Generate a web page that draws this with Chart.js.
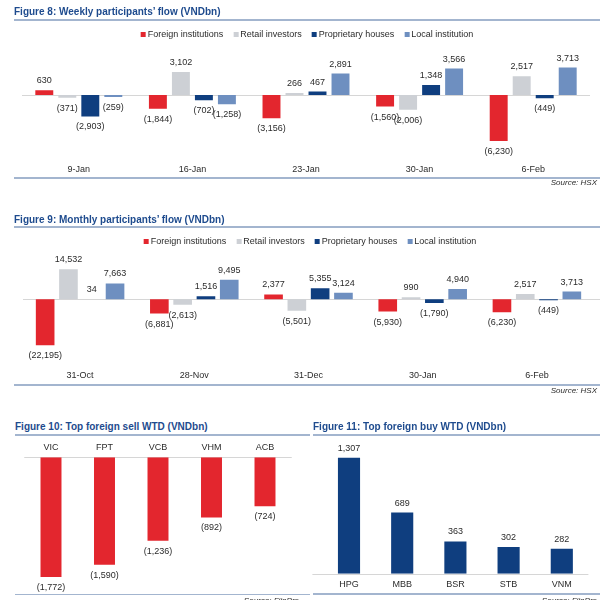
<!DOCTYPE html>
<html>
<head>
<meta charset="utf-8">
<script src="https://cdn.jsdelivr.net/npm/chart.js@4.4.1/dist/chart.umd.min.js"></script>
<style>
  html, body { margin: 0; padding: 0; background: #fff; }
  #wrap { position: relative; width: 600px; height: 600px; overflow: hidden; background: #fff;
          font-family: 'Liberation Sans', Arial, sans-serif; color: #2b2b2b; }
  canvas { position: absolute; }
  .title { position: absolute; font-weight: bold; font-size: 10px; color: #1e4b8e; line-height: 12px; white-space: nowrap; z-index: 2; }
  .rule { position: absolute; height: 1.5px; background: #a3b5cf; z-index: 2; }
  .src { position: absolute; font-style: italic; font-size: 8px; line-height: 10px; color: #2b2b2b; text-align: right; white-space: nowrap; z-index: 2; }
  .legend { position: absolute; display: flex; align-items: center; font-size: 9px; line-height: 11px; color: #2b2b2b; white-space: nowrap; z-index: 2; transform: translateX(-50%); }
  .legend .item { display: flex; align-items: center; margin-right: 10px; }
  .legend .item:last-child { margin-right: 0; }
  .legend .sw { width: 5px; height: 5px; margin-right: 2px; display: inline-block; }
</style>
</head>
<body>
<div id="wrap">
  <div class="title" style="left:14px; top:6px;">Figure 8: Weekly participants’ flow (VNDbn)</div>
  <div class="rule" style="left:14px; width:586px; top:19px;"></div>
  <div class="legend" id="leg8" style="left:307px; top:28.5px;"></div>
  <canvas id="c8" width="600" height="180" style="left:0; top:0; width:600px; height:180px;"></canvas>
  <div class="rule" style="left:14px; width:586px; top:177px;"></div>
  <div class="src" style="right:3px; top:178px;">Source: HSX</div>

  <div class="title" style="left:14px; top:214px;">Figure 9: Monthly participants’ flow (VNDbn)</div>
  <div class="rule" style="left:14px; width:586px; top:226px;"></div>
  <div class="legend" id="leg9" style="left:310px; top:236px;"></div>
  <canvas id="c9" width="600" height="190" style="left:0; top:200px; width:600px; height:190px;"></canvas>
  <div class="rule" style="left:14px; width:586px; top:384px;"></div>
  <div class="src" style="right:3px; top:386px;">Source: HSX</div>

  <div class="title" style="left:15px; top:421px;">Figure 10: Top foreign sell WTD (VNDbn)</div>
  <div class="rule" style="left:15px; width:295px; top:434px;"></div>
  <canvas id="c10" width="310" height="165" style="left:0; top:435px; width:310px; height:165px;"></canvas>
  <div class="rule" style="left:15px; width:295px; top:593.5px;"></div>
  <div class="src" style="left:200px; width:99px; top:596px;">Source: FiinPro</div>

  <div class="title" style="left:313px; top:421px;">Figure 11: Top foreign buy WTD (VNDbn)</div>
  <div class="rule" style="left:313px; width:287px; top:434px;"></div>
  <canvas id="c11" width="290" height="165" style="left:310px; top:435px; width:290px; height:165px;"></canvas>
  <div class="rule" style="left:313px; width:287px; top:593px;"></div>
  <div class="src" style="left:498px; width:99px; top:596px;">Source: FiinPro</div>
</div>
<script>
// ---- Data ----
const seriesNames = ['Foreign institutions', 'Retail investors', 'Proprietary houses', 'Local institution'];
const seriesColors = ['#e3262e', '#cdd0d5', '#0f3e7f', '#6e8fc0'];

const weekCats = ['9-Jan', '16-Jan', '23-Jan', '30-Jan', '6-Feb'];
const weekForeign = [630, -1844, -3156, -1560, -6230];
const weekRetail = [-371, 3102, 266, -2006, 2517];
const weekProp = [-2903, -702, 467, 1348, -449];
const weekLocal = [-259, -1258, 2891, 3566, 3713];

const monthCats = ['31-Oct', '28-Nov', '31-Dec', '30-Jan', '6-Feb'];
const monthForeign = [-22195, -6881, 2377, -5930, -6230];
const monthRetail = [14532, -2613, -5501, 990, 2517];
const monthProp = [34, 1516, 5355, -1790, -449];
const monthLocal = [7663, 9495, 3124, 4940, 3713];

const sellCats = ['VIC', 'FPT', 'VCB', 'VHM', 'ACB'];
const sellVals = [-1772, -1590, -1236, -892, -724];

const buyCats = ['HPG', 'MBB', 'BSR', 'STB', 'VNM'];
const buyVals = [1307, 689, 363, 302, 282];

// ---- Setup ----
Chart.defaults.font.family = "'Liberation Sans', Arial, sans-serif";
Chart.defaults.font.size = 9;
Chart.defaults.color = '#2b2b2b';

function fmt(v) {
  const s = Math.abs(v).toLocaleString('en-US');
  return v < 0 ? '(' + s + ')' : s;
}

const labelPlugin = {
  id: 'valueLabels',
  afterDatasetsDraw(chart) {
    const ctx = chart.ctx;
    ctx.save();
    ctx.font = "9px 'Liberation Sans', Arial, sans-serif";
    ctx.fillStyle = '#2b2b2b';
    ctx.textAlign = 'center';
    ctx.textBaseline = 'middle';
    chart.data.datasets.forEach((ds, i) => {
      const meta = chart.getDatasetMeta(i);
      meta.data.forEach((el, j) => {
        const v = ds.data[j];
        const y = v >= 0 ? el.y - 9.5 : el.y + 10.5;
        ctx.fillText(fmt(v), el.x, y);
      });
    });
    ctx.restore();
  }
};

const zeroLinePlugin = {
  id: 'zeroLine',
  beforeDatasetsDraw(chart, args, opts) {
    const ctx = chart.ctx, a = chart.chartArea;
    const y = Math.round(chart.scales.y.getPixelForValue(0)) + 0.5;
    ctx.save();
    ctx.strokeStyle = '#d6d6d6';
    ctx.lineWidth = 1;
    ctx.beginPath();
    ctx.moveTo(a.left - (opts.extLeft || 0), y);
    ctx.lineTo(a.right + (opts.extRight || 0), y);
    ctx.stroke();
    ctx.restore();
  }
};

function makeChart(id, cats, datasets, o) {
  return new Chart(document.getElementById(id), {
    type: 'bar',
    data: { labels: cats, datasets: datasets },
    options: {
      responsive: false,
      animation: false,
      events: [],
      layout: { padding: o.pad },
      datasets: { bar: { categoryPercentage: o.cat, barPercentage: o.bar } },
      plugins: {
        legend: { display: false },
        tooltip: { enabled: false },
        zeroLine: { extLeft: o.extL || 0, extRight: o.extR || 0 }
      },
      scales: {
        x: {
          position: o.xPos,
          grid: { display: false, drawTicks: false },
          border: { display: false },
          ticks: { padding: o.tickPad, font: { size: 9 }, color: '#2b2b2b', maxRotation: 0 },
          afterFit(scale) { scale.height = 14; }
        },
        y: { display: false, min: o.min, max: o.max }
      }
    },
    plugins: [zeroLinePlugin, labelPlugin]
  });
}

function groupSets(arrs) {
  return arrs.map((d, i) => ({ label: seriesNames[i], data: d, backgroundColor: seriesColors[i] }));
}

function buildLegend(id) {
  const el = document.getElementById(id);
  seriesNames.forEach((n, i) => {
    const it = document.createElement('span');
    it.className = 'item';
    it.innerHTML = '<span class="sw" style="background:' + seriesColors[i] + '"></span>' + n;
    el.appendChild(it);
  });
}
buildLegend('leg8');
buildLegend('leg9');

makeChart('c8', weekCats, groupSets([weekForeign, weekRetail, weekProp, weekLocal]), {
  pad: { left: 22, right: 10, top: 58, bottom: 4.4 },
  min: -9000, max: 5000, cat: 0.81, bar: 0.78, xPos: 'bottom', tickPad: 3
});

makeChart('c9', monthCats, groupSets([monthForeign, monthRetail, monthProp, monthLocal]), {
  pad: { left: 23, right: 6, top: 57.9, bottom: 8.4 },
  min: -33000, max: 20000, cat: 0.816, bar: 0.8, xPos: 'bottom', tickPad: 3, extR: 6
});

makeChart('c10', sellCats, [{ label: 'Top foreign sell', data: sellVals, backgroundColor: '#e3262e' }], {
  pad: { left: 24.25, right: 18.25, top: 8.3, bottom: 7.7 },
  min: -2000, max: 0, cat: 0.8, bar: 0.49, xPos: 'top', tickPad: 4.2
});

makeChart('c11', buyCats, [{ label: 'Top foreign buy', data: buyVals, backgroundColor: '#0f3e7f' }], {
  pad: { left: 12.4, right: 11.6, top: 5.65, bottom: 12.3 },
  min: 0, max: 1500, cat: 0.8, bar: 0.52, xPos: 'bottom', tickPad: 5.2, extL: 10
});
</script>
</body>
</html>
